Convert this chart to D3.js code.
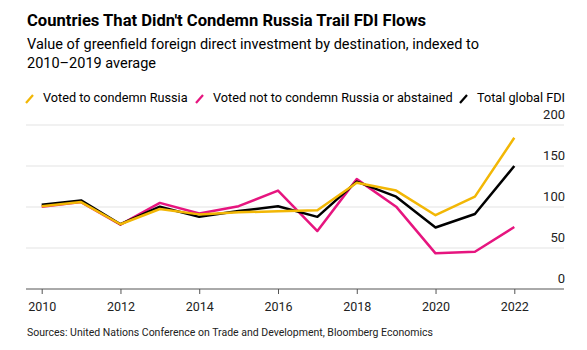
<!DOCTYPE html>
<html><head><meta charset="utf-8">
<script src="https://cdn.jsdelivr.net/npm/d3@7"></script>
<style>
body{margin:0;background:#fff;}
svg{display:block;font-family:Roboto,"Liberation Sans",Arial,sans-serif;}
</style></head>
<body><svg id="c" width="587" height="350"></svg>
<script>
const years = [2010,2011,2012,2013,2014,2015,2016,2017,2018,2019,2020,2021,2022];
const condemn = [101,106,79,97.6,91,93.5,94.8,96,129.6,120,90,112.6,184.5];
const notCondemn = [100.4,106,78.5,105,92,101,120,70.7,134,100.4,43.5,45.5,75.6];
const totalFDI = [102.8,108,79,100.4,88,95,101,88,131,112.6,75,91.5,150];
const yTicks = [0,50,100,150,200];
const xTicks = [2010,2012,2014,2016,2018,2020,2022];
const seriesNames = ["Voted to condemn Russia","Voted not to condemn Russia or abstained","Total global FDI"];
const colors = ["#f2b705","#e6157f","#000000"];

const svg = d3.select("#c");
const x = d3.scaleLinear().domain([2010,2022]).range([41.7,514.3]);
const y = d3.scaleLinear().domain([0,200]).range([289,125]);
const gl = 26, gr = 564;

svg.append("text").attr("x",27).attr("y",26).attr("font-size",16.6).attr("font-weight","bold").attr("fill","#000")
  .text("Countries That Didn't Condemn Russia Trail FDI Flows");
svg.append("text").attr("x",27).attr("y",49).attr("font-size",14.5).attr("fill","#000")
  .text("Value of greenfield foreign direct investment by destination, indexed to");
svg.append("text").attr("x",27).attr("y",68).attr("font-size",14.5).attr("fill","#000")
  .text("2010–2019 average");

// legend
const legX = [26,196,460];
seriesNames.forEach((n,i)=>{
  svg.append("line").attr("x1",legX[i]).attr("y1",103).attr("x2",legX[i]+7).attr("y2",95)
    .attr("stroke",colors[i]).attr("stroke-width",2.2);
  svg.append("text").attr("x",legX[i]+17).attr("y",102).attr("font-size",12.7).attr("fill","#000").text(n);
});

// grid
svg.append("g").selectAll("line").data(yTicks.filter(d=>d>0)).join("line")
  .attr("x1",gl).attr("x2",gr).attr("y1",d=>y(d)).attr("y2",d=>y(d))
  .attr("stroke","#e3e3e3").attr("stroke-width",1);
svg.append("line").attr("x1",gl).attr("x2",gr).attr("y1",y(0)).attr("y2",y(0)).attr("stroke","#555").attr("stroke-width",1);

// y labels
svg.append("g").selectAll("text").data(yTicks).join("text")
  .attr("x",565).attr("y",d=>y(d)-6).attr("text-anchor","end").attr("font-size",13).attr("fill","#222").text(d=>d);

// x axis
const xa = svg.append("g").attr("transform",`translate(0,${y(0)})`)
  .call(d3.axisBottom(x).tickValues(xTicks).tickFormat(d3.format("d")).tickSize(5).tickPadding(8));
xa.select(".domain").remove();
xa.selectAll("line").attr("stroke","#555");
xa.selectAll("text").attr("font-size",12.5).attr("fill","#222").attr("font-family","Roboto, Liberation Sans, Arial, sans-serif");

// lines
const line = d3.line().x((d,i)=>x(years[i])).y(d=>y(d));
[[notCondemn,1],[totalFDI,2],[condemn,0]].forEach(([data,ci])=>{
  svg.append("path").datum(data).attr("d",line).attr("fill","none").attr("stroke",colors[ci])
    .attr("stroke-width",2.5).attr("stroke-linejoin","round");
});

svg.append("text").attr("x",27).attr("y",336).attr("font-size",10.5).attr("fill","#222")
  .text("Sources: United Nations Conference on Trade and Development, Bloomberg Economics");
</script></body></html>
